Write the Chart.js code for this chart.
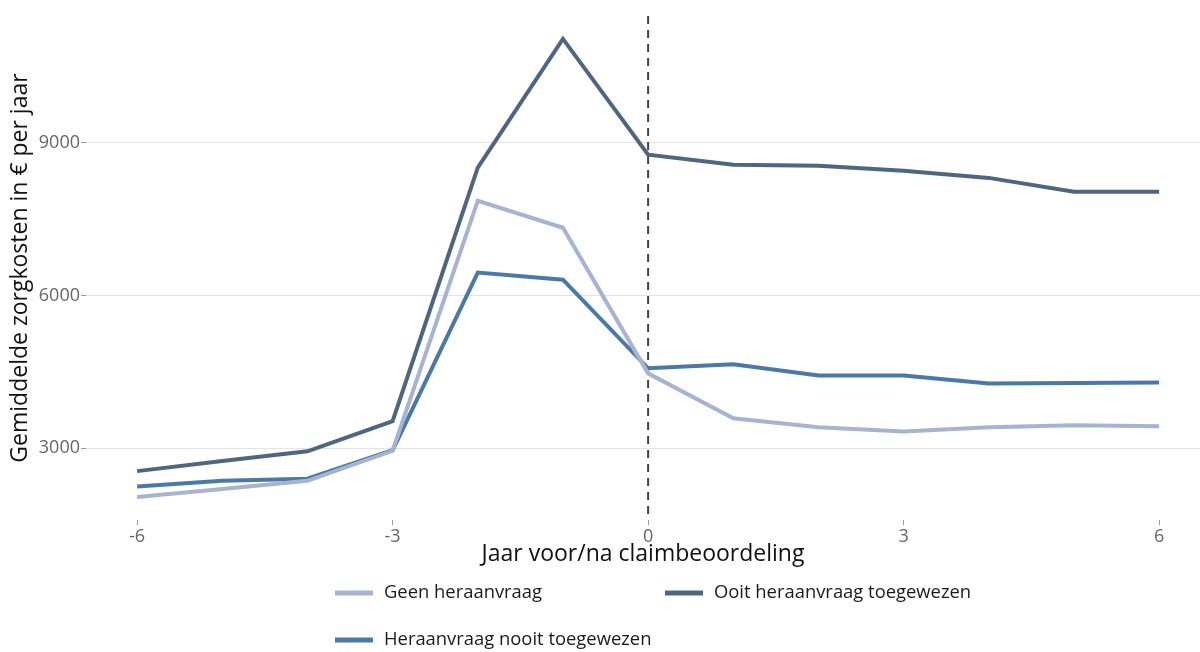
<!DOCTYPE html>
<html>
<head>
<meta charset="utf-8">
<script src="https://cdn.jsdelivr.net/npm/chart.js@4"></script>
<style>
    html, body { margin: 0; padding: 0; background: #fff; overflow: hidden; }
    #wrap { width: 1200px; height: 652px; }
</style>
</head>
<body>
<div id="wrap"><canvas id="KostenDiagram"></canvas></div>
<script>
// jaren voor/na claimbeoordeling
var jaren = [-6, -5, -4, -3, -2, -1, 0, 1, 2, 3, 4, 5, 6];

// gemiddelde zorgkosten per groep
var geen_heraanvraag = [2040, 2200, 2360, 2950, 7860, 7330, 4470, 3590, 3410, 3330, 3410, 3450, 3430];
var heraanvraag_nooit = [2250, 2360, 2400, 2960, 6450, 6310, 4570, 4650, 4430, 4430, 4270, 4280, 4290];
var ooit_toegewezen = [2550, 2750, 2940, 3530, 8510, 11040, 8765, 8570, 8550, 8450, 8310, 8040, 8040];

var x_ticks = [-6, -3, 0, 3, 6];
var y_ticks = [3000, 6000, 9000];

var reeks_labels = ["Geen heraanvraag", "Heraanvraag nooit toegewezen", "Ooit heraanvraag toegewezen"];
var reeks_kleuren = ["#a7b3d1", "#4a79a8", "#4f6681"];

var font_family = "'Open Sans', 'DejaVu Sans', sans-serif";


function maakPunten(waarden) {
    var punten = new Array();
    for (var i = 0; i < jaren.length; ++i) {
        punten.push({'x': jaren[i], 'y': waarden[i]});
    }
    return punten;
}

// dashed line at year 0
var nulLijnPlugin = {
    id: 'nulLijn',
    beforeDatasetsDraw: function (chart) {
        var ctx = chart.ctx;
        var xp = chart.scales.x.getPixelForValue(0);
        ctx.save();
        ctx.strokeStyle = "#444444";
        ctx.lineWidth = 2;
        ctx.setLineDash([8, 6]);
        ctx.beginPath();
        ctx.moveTo(xp, chart.chartArea.top);
        ctx.lineTo(xp, chart.chartArea.bottom);
        ctx.stroke();
        ctx.restore();
    }
};

// legend in two columns like the original
var legendaPlugin = {
    id: 'legenda',
    afterDraw: function (chart) {
        var ctx = chart.ctx;
        var plekken = [[335, 593], [335, 640], [665, 593]];
        ctx.save();
        ctx.font = "18.4px " + font_family;
        ctx.textBaseline = "middle";
        for (var i = 0; i < chart.data.datasets.length; ++i) {
            var ds = chart.data.datasets[i];
            var p = plekken[i];
            ctx.strokeStyle = ds.borderColor;
            ctx.lineWidth = 5;
            ctx.beginPath();
            ctx.moveTo(p[0], p[1]);
            ctx.lineTo(p[0] + 38, p[1]);
            ctx.stroke();
            ctx.fillStyle = "#1a1a1a";
            ctx.fillText(ds.label, p[0] + 49, p[1]);
        }
        ctx.restore();
    }
};


document.addEventListener('DOMContentLoaded', function () {
    var canvas = document.getElementById("KostenDiagram");
    var reeksen = [geen_heraanvraag, heraanvraag_nooit, ooit_toegewezen];

    var datasets = [];
    for (var i = 0; i < reeksen.length; ++i) {
        datasets.push({
            type: "line",
            label: reeks_labels[i],
            borderColor: reeks_kleuren[i],
            backgroundColor: reeks_kleuren[i],
            data: maakPunten(reeksen[i]),
            pointRadius: 0,
            borderWidth: 4,
            tension: 0
        });
    }

    new Chart(canvas, {
        data: {
            datasets: datasets
        },
        options: {
            responsive: true,
            maintainAspectRatio: false,
            animation: false,
            layout: {
                padding: {top: 16, right: 0, bottom: 82, left: 0}
            },
            scales: {
                x: {
                    type: 'linear',
                    min: -6.6,
                    max: 6.48,
                    afterBuildTicks: function (scale) {
                        scale.ticks = x_ticks.map(function (v) { return {value: v}; });
                    },
                    afterFit: function (scale) { scale.height = 50; },
                    grid: {
                        drawOnChartArea: false,
                        drawTicks: true,
                        tickLength: 5,
                        tickColor: "#9a9a9a"
                    },
                    border: {display: false},
                    ticks: {
                        color: "#666666",
                        padding: 1,
                        font: {family: font_family, size: 18},
                        callback: function (v) { return String(v); }
                    },
                    title: {
                        display: true,
                        text: "Jaar voor/na claimbeoordeling",
                        color: "#111111",
                        padding: {top: 0, bottom: 2},
                        font: {family: font_family, size: 23}
                    }
                },
                y: {
                    type: 'linear',
                    min: 1590,
                    max: 11490,
                    afterBuildTicks: function (scale) {
                        scale.ticks = y_ticks.map(function (v) { return {value: v}; });
                    },
                    afterFit: function (scale) { scale.width = 86; },
                    grid: {
                        color: "#e3e3e3",
                        lineWidth: 1,
                        drawTicks: true,
                        tickLength: 5,
                        tickColor: "#9a9a9a"
                    },
                    border: {display: false},
                    ticks: {
                        color: "#666666",
                        padding: 1,
                        font: {family: font_family, size: 18},
                        callback: function (v) { return String(v); }
                    },
                    title: {
                        display: true,
                        text: "Gemiddelde zorgkosten in € per jaar",
                        color: "#111111",
                        padding: {top: 7, bottom: 0},
                        font: {family: font_family, size: 23}
                    }
                }
            },
            plugins: {
                legend: {display: false},
                tooltip: {enabled: false}
            }
        },
        plugins: [nulLijnPlugin, legendaPlugin]
    });
});
</script>
</body>
</html>
